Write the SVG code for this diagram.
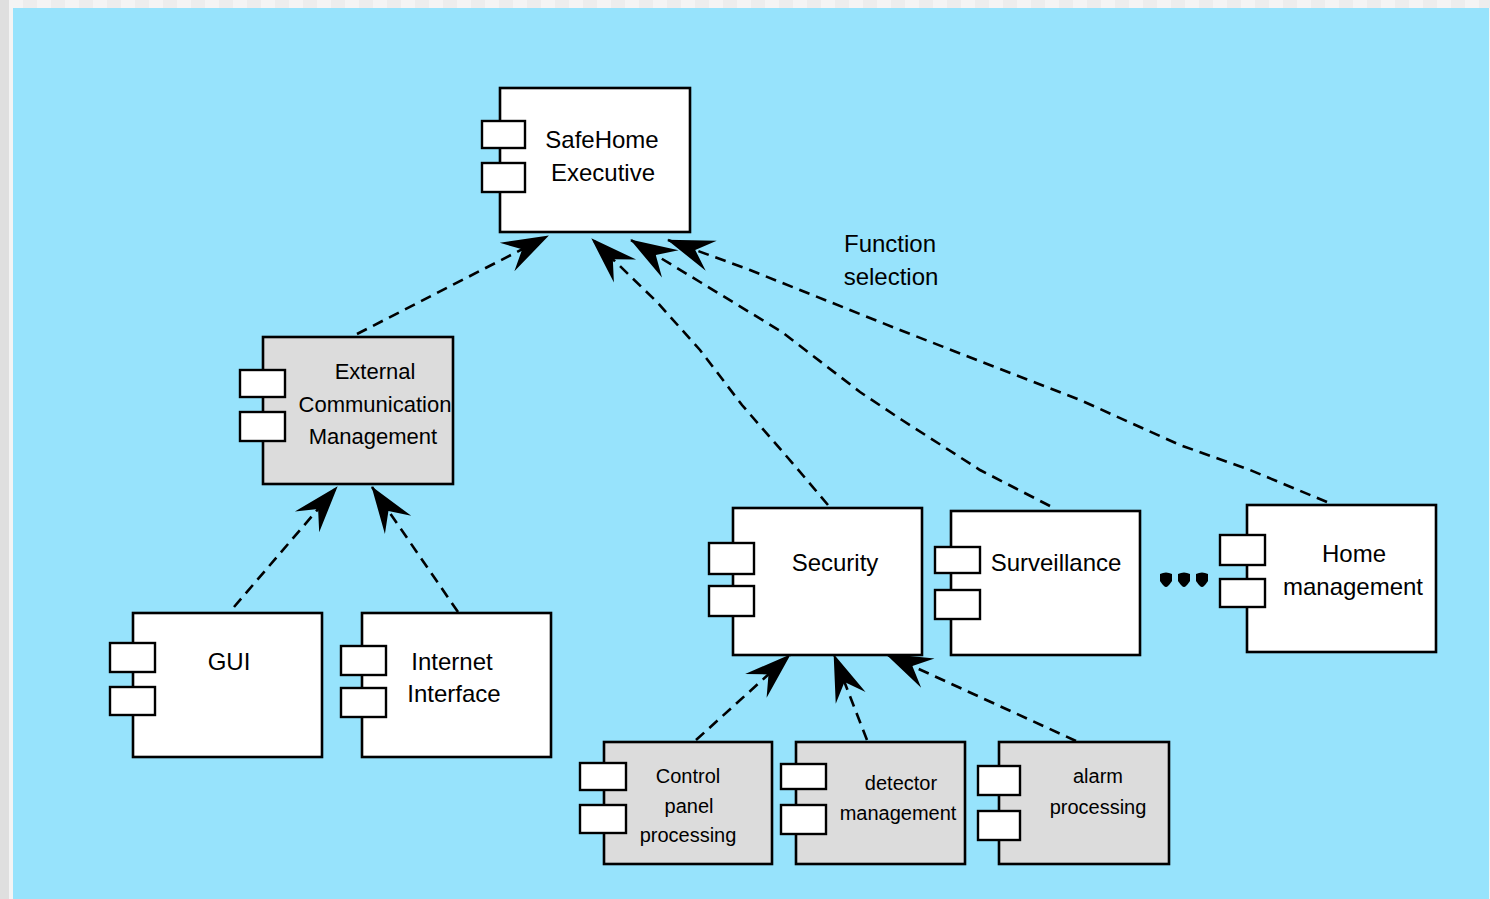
<svg xmlns="http://www.w3.org/2000/svg" width="1490" height="899" viewBox="0 0 1490 899">
<style>
.body{stroke:#000;stroke-width:2.6}
.white{fill:#fff}
.grey{fill:#dcdcdc}
.port{fill:#fff;stroke:#000;stroke-width:2.4}
.t{font-family:"Liberation Sans",Arial,sans-serif;fill:#000;text-anchor:middle}
.t24{font-size:24px}
.t22{font-size:22px}
.t20{font-size:20px}
.dep{fill:none;stroke:#000;stroke-width:2.6;stroke-dasharray:11 7;marker-end:url(#arr)}
</style>
<defs>
<pattern id="chk" x="9" y="0" width="28" height="8" patternUnits="userSpaceOnUse">
<rect x="0" y="0" width="14" height="8" fill="#f4f4f4"/>
<rect x="14" y="0" width="14" height="8" fill="#ededed"/>
</pattern>
<marker id="arr" markerUnits="userSpaceOnUse" markerWidth="52" markerHeight="40" viewBox="-50 -20 52 40" refX="0" refY="0" orient="auto" overflow="visible">
<path d="M1,0 L-46,-16 L-29,0 L-46,16 Z" fill="#000" stroke="none"/>
</marker>
</defs>
<rect x="0" y="0" width="1490" height="899" fill="#f4f4f4"/>
<rect x="9" y="0" width="1481" height="8" fill="url(#chk)"/>
<rect x="0" y="0" width="9" height="899" fill="#dfdfdf"/>
<rect x="13" y="8" width="1476" height="891" fill="#97e3fc"/>

<g id="connectors">
<path class="dep" d="M357,334 L548,236"/>
<path class="dep" d="M828,505 L795,466 L742,405 L700,350 L657,302 L592,239"/>
<path class="dep" d="M1050,506 L980,470 L902,420 L860,392 L782,332 L700,282 L631,240"/>
<path class="dep" d="M1327,502 L1250,470 L1180,445 L1080,400 L982,362 L900,330 L800,290 L750,270 L668,240"/>
<path class="dep" d="M234,607 L337,487"/>
<path class="dep" d="M458,612 L372,487"/>
<path class="dep" d="M696,740 L790,655"/>
<path class="dep" d="M867,740 L834,655"/>
<path class="dep" d="M1076,741 L886,654"/>
</g>

<g id="safehome-executive">
<rect class="body white" x="500" y="88" width="190" height="144"/>
<rect class="port" x="482" y="121" width="43" height="27"/>
<rect class="port" x="482" y="163" width="43" height="29"/>
<text class="t t24" x="602" y="148">SafeHome</text>
<text class="t t24" x="603" y="181">Executive</text>
</g>

<g id="external-communication-management">
<rect class="body grey" x="263" y="337" width="190" height="147"/>
<rect class="port" x="240" y="370" width="45" height="27"/>
<rect class="port" x="240" y="412" width="45" height="29"/>
<text class="t t22" x="375" y="379">External</text>
<text class="t t22" x="375" y="412">Communication</text>
<text class="t t22" x="373" y="444">Management</text>
</g>

<g id="gui">
<rect class="body white" x="133" y="613" width="189" height="144"/>
<rect class="port" x="110" y="643" width="45" height="29"/>
<rect class="port" x="110" y="687" width="45" height="28"/>
<text class="t t24" x="229" y="670">GUI</text>
</g>

<g id="internet-interface">
<rect class="body white" x="362" y="613" width="189" height="144"/>
<rect class="port" x="341" y="646" width="45" height="29"/>
<rect class="port" x="341" y="688" width="45" height="29"/>
<text class="t t24" x="452" y="670">Internet</text>
<text class="t t24" x="454" y="702">Interface</text>
</g>

<g id="security">
<rect class="body white" x="733" y="508" width="189" height="147"/>
<rect class="port" x="709" y="543" width="45" height="31"/>
<rect class="port" x="709" y="586" width="45" height="30"/>
<text class="t t24" x="835" y="571">Security</text>
</g>

<g id="surveillance">
<rect class="body white" x="951" y="511" width="189" height="144"/>
<rect class="port" x="935" y="547" width="45" height="26"/>
<rect class="port" x="935" y="590" width="45" height="29"/>
<text class="t t24" x="1056" y="571">Surveillance</text>
</g>

<g id="ellipsis">
<path d="M1160,574 Q1166,571 1172,574 L1172,581 Q1168,587 1166,587 Q1164,587 1160,581 Z" fill="#000"/>
<path d="M1178,574 Q1184,571 1190,574 L1190,581 Q1186,587 1184,587 Q1182,587 1178,581 Z" fill="#000"/>
<path d="M1196,574 Q1202,571 1208,574 L1208,581 Q1204,587 1202,587 Q1200,587 1196,581 Z" fill="#000"/>
</g>

<g id="home-management">
<rect class="body white" x="1247" y="505" width="189" height="147"/>
<rect class="port" x="1220" y="535" width="45" height="30"/>
<rect class="port" x="1220" y="579" width="45" height="28"/>
<text class="t t24" x="1354" y="562">Home</text>
<text class="t t24" x="1353" y="595">management</text>
</g>

<g id="control-panel-processing">
<rect class="body grey" x="604" y="742" width="168" height="122"/>
<rect class="port" x="580" y="763" width="46" height="27"/>
<rect class="port" x="580" y="805" width="46" height="28"/>
<text class="t t20" x="688" y="783">Control</text>
<text class="t t20" x="689" y="813">panel</text>
<text class="t t20" x="688" y="842">processing</text>
</g>

<g id="detector-management">
<rect class="body grey" x="796" y="742" width="169" height="122"/>
<rect class="port" x="781" y="764" width="45" height="25"/>
<rect class="port" x="781" y="805" width="45" height="29"/>
<text class="t t20" x="901" y="790">detector</text>
<text class="t t20" x="898" y="820">management</text>
</g>

<g id="alarm-processing">
<rect class="body grey" x="999" y="742" width="170" height="122"/>
<rect class="port" x="978" y="766" width="42" height="29"/>
<rect class="port" x="978" y="811" width="42" height="29"/>
<text class="t t20" x="1098" y="783">alarm</text>
<text class="t t20" x="1098" y="814">processing</text>
</g>

<g id="function-selection-label">
<text class="t t24" x="890" y="252">Function</text>
<text class="t t24" x="891" y="285">selection</text>
</g>
</svg>
